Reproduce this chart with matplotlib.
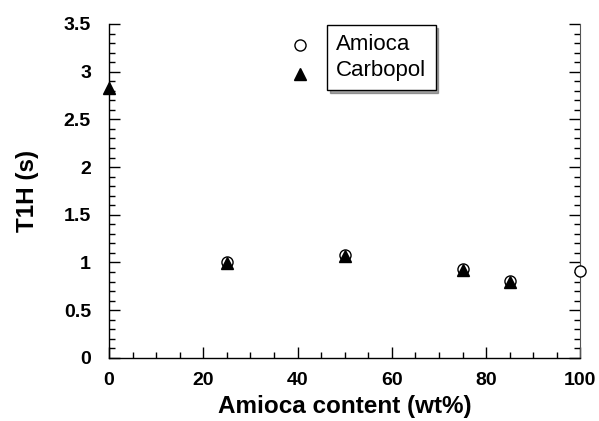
import matplotlib
matplotlib.use("Agg")
import matplotlib.pyplot as plt
from matplotlib.lines import Line2D
from matplotlib.ticker import MultipleLocator

# =========================
# DATA
# =========================
amioca_x = [25, 50, 75, 85, 100]
amioca_y = [1.00, 1.08, 0.93, 0.81, 0.91]

carbopol_x = [0, 25, 50, 75, 85]
carbopol_y = [2.83, 0.99, 1.07, 0.92, 0.80]

x_ticks = [0, 20, 40, 60, 80, 100]
y_ticks = [0, 0.5, 1, 1.5, 2, 2.5, 3, 3.5]
y_tick_labels = ["0", "0.5", "1", "1.5", "2", "2.5", "3", "3.5"]

plt.rcParams['font.family'] = ['Liberation Sans', 'DejaVu Sans']

# =========================
# FIGURE
# =========================
fig = plt.figure(figsize=(5.99, 4.21), dpi=100)
ax = fig.add_axes([0.182, 0.150, 0.787, 0.793])

ax.plot(amioca_x, amioca_y, linestyle='none', marker='o', markersize=8,
        markerfacecolor='white', markeredgecolor='black', markeredgewidth=1.0,
        clip_on=False, zorder=3)
ax.plot(carbopol_x, carbopol_y, linestyle='none', marker='^', markersize=9,
        color='black', clip_on=False, zorder=4)

ax.set_xlim(0, 100)
ax.set_ylim(0, 3.5)
ax.set_xticks(x_ticks)
ax.set_yticks(y_ticks)
ax.set_yticklabels(y_tick_labels)
ax.xaxis.set_minor_locator(MultipleLocator(5))
ax.yaxis.set_minor_locator(MultipleLocator(0.1))

ax.spines['top'].set_visible(False)
ax.spines['right'].set_color('#555555')
for s in ['left', 'bottom']:
    ax.spines[s].set_linewidth(1.0)

ax.tick_params(axis='both', which='both', direction='in', labelsize=14)
ax.tick_params(axis='y', which='both', left=True, right=True)
ax.tick_params(axis='x', which='both', top=False)
ax.tick_params(axis='y', which='major', length=8, width=1, pad=13)
ax.tick_params(axis='y', which='minor', length=4, width=1)
ax.tick_params(axis='x', which='major', length=8, width=1, pad=10)
ax.tick_params(axis='x', which='minor', length=4, width=1)

for lab in ax.get_xticklabels() + ax.get_yticklabels():
    lab.set_fontweight('bold')

ax.set_xlabel("Amioca content (wt%)", fontsize=17.5, fontweight='bold')
ax.set_ylabel("T1H (s)", fontsize=17.5, fontweight='bold')
ax.xaxis.set_label_coords(0.5, -0.112)
ax.yaxis.set_label_coords(-0.148, 0.5)

# legend: markers sit outside the framed text box
handles = [
    Line2D([], [], linestyle='none', marker='o', markersize=8,
           markerfacecolor='white', markeredgecolor='black'),
    Line2D([], [], linestyle='none', marker='^', markersize=9, color='black'),
]
leg1 = ax.legend(handles, ["", ""], loc='upper left',
                 bbox_to_anchor=(0.34, 1.02), frameon=False,
                 fontsize=17, handlelength=1, handletextpad=0,
                 labelspacing=0.3, borderpad=0.3)
ax.add_artist(leg1)

blank = [Line2D([], [], linestyle='none'), Line2D([], [], linestyle='none')]
leg2 = ax.legend(blank, ["Amioca", "Carbopol"], loc='upper left',
                 bbox_to_anchor=(0.462, 0.997), borderaxespad=0,
                 frameon=True, shadow=True,
                 fancybox=False, fontsize=16, handlelength=0,
                 handletextpad=0, labelspacing=0.2, borderpad=0.42,
                 edgecolor='black')
leg2.get_frame().set_linewidth(1.0)

plt.savefig("out.png", dpi=100)
